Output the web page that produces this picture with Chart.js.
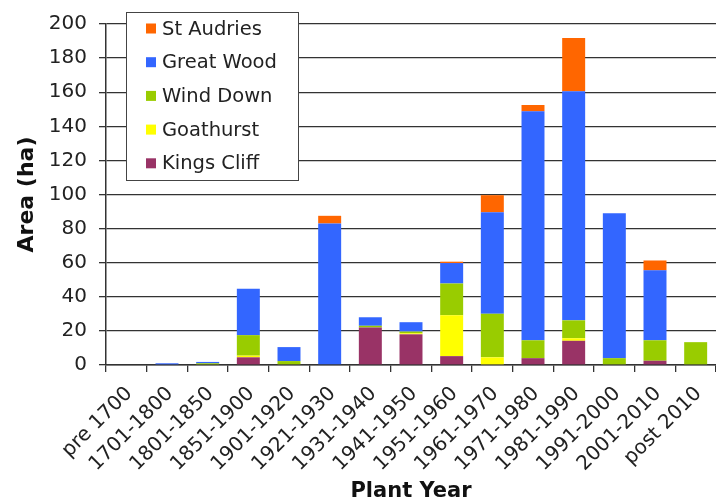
<!DOCTYPE html>
<html><head><meta charset="utf-8">
<script src="https://cdn.jsdelivr.net/npm/chart.js@4"></script>
<style>html,body{margin:0;padding:0;background:#fff}#wrap{width:716px;height:504px}</style>
</head><body><div id="wrap"><canvas id="c" width="716" height="504"></canvas></div>
<script>
const categories = ['pre 1700','1701-1800','1801-1850','1851-1900','1901-1920','1921-1930','1931-1940','1941-1950','1951-1960','1961-1970','1971-1980','1981-1990','1991-2000','2001-2010','post 2010'];
const kingsCliff = [0,0,0,4.5,0,0,22,18,5.2,0,4,14.2,0,2.5,0];
const goathurst  = [0,0,0,1,0,0,0,0.6,24,4.5,0,1.5,0,0,0];
const windDown   = [0,0,1,12,2.3,0,1,1,18.6,25.6,10.5,10.5,4,12,13.4];
const greatWood  = [0,1,0.8,27.2,8.2,83,5,5.5,12,59.5,134.3,134.3,85,41,0];
const stAudries  = [0,0,0,0,0,4.5,0,0,0.8,10,3.7,31.3,0,5.8,0];
const yTicks = [0,20,40,60,80,100,120,140,160,180,200];

const FONT = 'DejaVu Sans, Verdana, sans-serif';
const series = [
  {label:'Kings Cliff', data:kingsCliff, color:'#993366'},
  {label:'Goathurst', data:goathurst, color:'#FFFF00'},
  {label:'Wind Down', data:windDown, color:'#99CC00'},
  {label:'Great Wood', data:greatWood, color:'#3366FF'},
  {label:'St Audries', data:stAudries, color:'#FF6600'}
];

const legendBox = {
  id:'legendBox',
  afterDatasetsDraw(chart){
    const ctx = chart.ctx;
    const x = 126.5, y = 12.5, w = 172, h = 168;
    ctx.save();
    ctx.fillStyle = '#fff';
    ctx.fillRect(x, y, w, h);
    ctx.strokeStyle = '#444';
    ctx.lineWidth = 1;
    ctx.strokeRect(x, y, w, h);
    ctx.font = '19.5px ' + FONT;
    ctx.textBaseline = 'middle';
    ctx.textAlign = 'left';
    const items = series.slice().reverse();
    items.forEach((s, i) => {
      const cy = 28.5 + i * 33.7;
      ctx.fillStyle = s.color;
      ctx.fillRect(146, cy - 5, 10, 10);
      ctx.fillStyle = '#222';
      ctx.fillText(s.label, 162, cy + 1);
    });
    ctx.restore();
  }
};

new Chart(document.getElementById('c'), {
  type:'bar',
  data:{
    labels:categories,
    datasets: series.map(s => ({label:s.label, data:s.data, backgroundColor:s.color, borderWidth:0, barPercentage:0.565, categoryPercentage:1}))
  },
  options:{
    responsive:false, animation:false, maintainAspectRatio:false,
    layout:{padding:{top:22, right:0, left:0, bottom:0}},
    plugins:{legend:{display:false}, tooltip:{enabled:false}},
    scales:{
      x:{
        stacked:true,
        grid:{display:true, drawOnChartArea:false, drawTicks:true, tickLength:7, color:'#333', lineWidth:1.3, offset:true},
        border:{display:true, color:'#333', width:1.5},
        ticks:{font:{family:FONT, size:20}, color:'#222', maxRotation:45, minRotation:45, autoSkip:false, padding:10, labelOffset:3},
        title:{display:true, text:'Plant Year', font:{family:FONT, size:21, weight:'bold'}, color:'#111', padding:{top:0,bottom:0}},
        afterFit(s){ s.height = 139; s.paddingRight = 0; s.paddingLeft = 0; }
      },
      y:{
        stacked:true, min:0, max:200,
        afterBuildTicks(s){ s.ticks = yTicks.map(v => ({value:v})); },
        grid:{color:'#333', lineWidth:1.3, tickLength:7},
        border:{display:true, color:'#333', width:1.5},
        ticks:{font:{family:FONT, size:20}, color:'#222', padding:12},
        title:{display:true, text:'Area (ha)', font:{family:FONT, size:22, weight:'bold'}, color:'#111', padding:{top:14,bottom:0}},
        afterFit(s){ s.width = 106; }
      }
    }
  },
  plugins:[legendBox]
});
</script></body></html>
